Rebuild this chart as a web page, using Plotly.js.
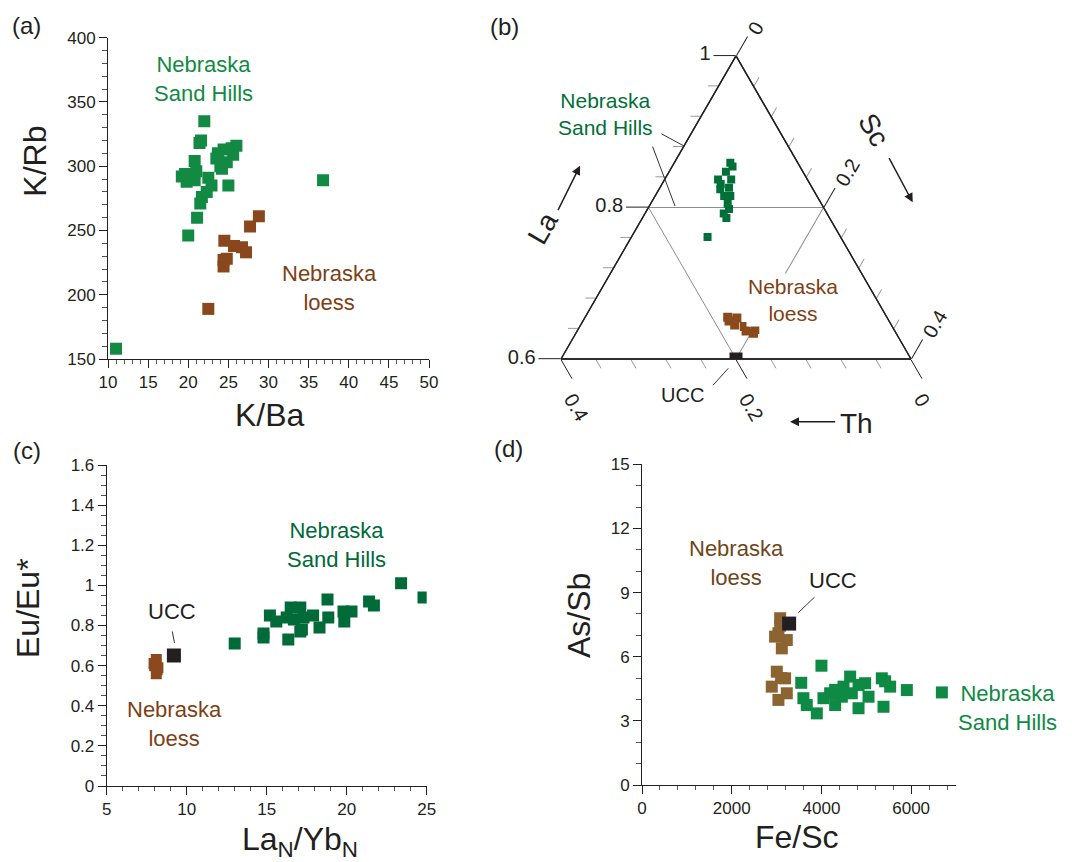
<!DOCTYPE html>
<html><head><meta charset="utf-8">
<script src="https://cdn.plot.ly/plotly-3.0.1.min.js"></script>
<style>html,body{margin:0;padding:0;background:#fff;} #chart{width:1072px;height:862px;}</style>
</head><body><div id="chart"></div>
<script>
// ---------- Panel (a): K/Ba vs K/Rb ----------
const aSandKBa = [11.0, 36.8, 22.0, 21.4, 21.6, 25.4, 24.4, 23.5, 24.8, 24.2, 20.8, 19.6, 21.0, 19.8, 20.8, 22.5, 22.9, 22.3, 21.7, 21.5, 25.0, 21.1, 20.0, 19.2, 26.0, 23.7, 25.6, 24.0];
const aSandKRb = [158, 289, 335, 318, 320, 314, 313, 306, 303, 298, 304, 294, 296, 288, 289, 291, 285, 280, 276, 271, 285, 260, 246, 292, 316, 310, 309, 300];
const aLoessKBa = [28.8, 27.7, 24.5, 25.7, 26.7, 27.2, 24.8, 24.4, 24.4, 22.5];
const aLoessKRb = [261, 253, 242, 238, 237, 233, 228, 222, 227, 189];

// ---------- Panel (b): ternary La - Th - Sc ----------
const bSandLa = [0.859, 0.847, 0.837, 0.837, 0.824, 0.826, 0.815, 0.805, 0.798, 0.792, 0.761, 0.854, 0.831, 0.815, 0.786];
const bSandTh = [0.077, 0.088, 0.102, 0.087, 0.106, 0.095, 0.106, 0.107, 0.109, 0.118, 0.152, 0.077, 0.102, 0.099, 0.118];
const bSandSc = [0.064, 0.065, 0.061, 0.076, 0.070, 0.079, 0.079, 0.088, 0.093, 0.090, 0.087, 0.069, 0.067, 0.086, 0.096];
const bLoessLa = [0.655, 0.654, 0.645, 0.643, 0.637, 0.639, 0.634, 0.650];
const bLoessTh = [0.182, 0.172, 0.179, 0.169, 0.170, 0.159, 0.163, 0.183];
const bLoessSc = [0.163, 0.174, 0.176, 0.188, 0.193, 0.202, 0.203, 0.167];
const bUccLa = [0.6], bUccTh = [0.2], bUccSc = [0.2];
const ternMajorA = [0.6, 0.8, 1.0], ternMajorALabels = ['0.6', '0.8', '1'];
const ternMajorBC = [0, 0.2, 0.4], ternMajorBCLabels = ['0', '0.2', '0.4'];
const ternMinorA = [0.64, 0.68, 0.72, 0.76, 0.84, 0.88, 0.92, 0.96];
const ternMinorBC = [0.04, 0.08, 0.12, 0.16, 0.24, 0.28, 0.32, 0.36];

// ---------- Panel (c): LaN/YbN vs Eu/Eu* ----------
const cSandLaYb = [13.0, 14.8, 14.8, 15.2, 15.6, 16.5, 17.1, 17.9, 16.35, 17.1, 18.3, 18.85, 18.8, 19.8, 19.85, 20.3, 21.4, 21.7, 23.4, 24.8, 16.7, 17.3, 16.25, 17.2];
const cSandEu = [0.71, 0.76, 0.74, 0.85, 0.82, 0.89, 0.89, 0.85, 0.73, 0.77, 0.79, 0.84, 0.93, 0.87, 0.82, 0.87, 0.92, 0.90, 1.01, 0.94, 0.83, 0.84, 0.84, 0.78];
const cLoessLaYb = [8.1, 8.0, 8.1, 8.15, 7.96, 8.2];
const cLoessEu = [0.63, 0.60, 0.56, 0.58, 0.61, 0.59];
const cUccLaYb = [9.2], cUccEu = [0.65];

// ---------- Panel (d): Fe/Sc vs As/Sb ----------
const dSandFeSc = [3550, 4000, 3598, 3673, 3897, 4045, 4194, 4306, 4306, 4455, 4492, 4640, 4678, 4827, 4827, 4975, 5050, 5346, 5384, 5532, 5904, 6685, 5420];
const dSandAsSb = [4.78, 5.58, 4.06, 3.74, 3.35, 4.06, 4.29, 3.74, 4.45, 4.13, 4.60, 5.07, 4.29, 3.59, 4.68, 4.76, 4.13, 4.99, 3.66, 4.60, 4.44, 4.33, 4.85];
const dLoessFeSc = [3080, 3041, 2967, 3228, 3117, 3080, 3005, 3190, 2893, 3228, 3041, 3100];
const dLoessAsSb = [7.80, 7.10, 6.94, 6.78, 6.39, 7.45, 5.30, 4.99, 4.60, 4.29, 3.98, 5.00];
const dUccFeSc = [3280], dUccAsSb = [7.55];

// ---------- styling ----------
const W = 1072, H = 862;
const px = x => x / W, py = y => 1 - y / H;
const FONT = '"Liberation Sans", Arial, Helvetica, sans-serif';
const INK = '#231f20';
const GREEN_A = '#128a43', BROWN_A = '#8a461c';
const GREEN_B = '#007038', BROWN_B = '#8a4a1c';
const GREEN_C = '#006a38', BROWN_C = '#8a4a1e';
const GREEN_D = '#0e8a44', TAN_D = '#8c6432';
const UCC_COL = '#231f20';

function sq(size, color) { return {symbol: 'square', size: size, color: color, line: {width: 0}}; }

const traces = [
  {type: 'scatter', mode: 'markers', x: aSandKBa, y: aSandKRb, xaxis: 'x', yaxis: 'y', marker: sq(12, GREEN_A), name: 'Nebraska Sand Hills'},
  {type: 'scatter', mode: 'markers', x: aLoessKBa, y: aLoessKRb, xaxis: 'x', yaxis: 'y', marker: sq(12, BROWN_A), name: 'Nebraska loess'},

  // invisible carrier so the minor-tick ternary frame is drawn
  {type: 'scatterternary', mode: 'markers', subplot: 'ternary', a: bUccLa, b: bUccTh, c: bUccSc, marker: {size: 1, opacity: 0}, hoverinfo: 'skip', name: ''},
  {type: 'scatterternary', mode: 'markers', subplot: 'ternary2', a: bSandLa, b: bSandTh, c: bSandSc, marker: sq(8, GREEN_B), name: 'Nebraska Sand Hills'},
  {type: 'scatterternary', mode: 'markers', subplot: 'ternary2', a: bLoessLa, b: bLoessTh, c: bLoessSc, marker: sq(9, BROWN_B), name: 'Nebraska loess'},
  {type: 'scatterternary', mode: 'markers', subplot: 'ternary2', a: bUccLa, b: bUccTh, c: bUccSc, marker: sq(13, UCC_COL), name: 'UCC'},

  {type: 'scatter', mode: 'markers', x: cSandLaYb, y: cSandEu, xaxis: 'x2', yaxis: 'y2', marker: sq(12, GREEN_C), name: 'Nebraska Sand Hills'},
  {type: 'scatter', mode: 'markers', x: cLoessLaYb, y: cLoessEu, xaxis: 'x2', yaxis: 'y2', marker: sq(11, BROWN_C), name: 'Nebraska loess'},
  {type: 'scatter', mode: 'markers', x: cUccLaYb, y: cUccEu, xaxis: 'x2', yaxis: 'y2', marker: sq(14, UCC_COL), name: 'UCC'},

  {type: 'scatter', mode: 'markers', x: dSandFeSc, y: dSandAsSb, xaxis: 'x3', yaxis: 'y3', marker: sq(12, GREEN_D), name: 'Nebraska Sand Hills'},
  {type: 'scatter', mode: 'markers', x: dLoessFeSc, y: dLoessAsSb, xaxis: 'x3', yaxis: 'y3', marker: sq(12, TAN_D), name: 'Nebraska loess'},
  {type: 'scatter', mode: 'markers', x: dUccFeSc, y: dUccAsSb, xaxis: 'x3', yaxis: 'y3', marker: sq(14, UCC_COL), name: 'UCC'}
];

function cart(extra) {
  return Object.assign({
    showline: true, linecolor: INK, linewidth: 1, mirror: false,
    ticks: 'outside', ticklen: 8, tickwidth: 1, tickcolor: INK,
    tickfont: {family: FONT, size: 17, color: INK},
    showgrid: false, zeroline: false, fixedrange: true, title: {text: ''}
  }, extra);
}

// triangle: side 350 px, bottom edge at y=359, centred on x=736
const ternDomain = {x: [px(561), px(911)], y: [py(359), py(359 - 350 * Math.sqrt(3) / 2)]};
function ternMinorAxis(minv, vals) {
  return {min: minv, tickmode: 'array', tickvals: vals, ticks: 'outside', ticklen: 10, tickwidth: 1, tickcolor: '#9a9a9a',
    showticklabels: false, showgrid: false, showline: true, linecolor: INK, linewidth: 1.3, title: {text: ''}};
}
function ternMajorAxis(minv, vals, labels, angle) {
  return {min: minv, tickmode: 'array', tickvals: vals, ticktext: labels, ticks: 'outside', ticklen: 22, tickwidth: 1, tickcolor: INK,
    tickangle: angle, tickfont: {family: FONT, size: 20, color: INK},
    showgrid: true, gridcolor: '#8c8c8c', gridwidth: 1, showline: true, linecolor: INK, linewidth: 1.3, title: {text: ''}};
}

function txt(x, y, text, size, color, extra) {
  return Object.assign({xref: 'paper', yref: 'paper', x: px(x), y: py(y), text: text, showarrow: false,
    font: {family: FONT, size: size, color: color}, xanchor: 'center', yanchor: 'middle'}, extra || {});
}
function arrow(tipX, tipY, tailX, tailY, head, width, color) {
  return {xref: 'paper', yref: 'paper', x: px(tipX), y: py(tipY), ax: tailX - tipX, ay: tailY - tipY,
    axref: 'pixel', ayref: 'pixel', text: '', showarrow: true, arrowhead: head, arrowsize: 1.2, arrowwidth: width, arrowcolor: color};
}

const annotations = [
  // (a)
  txt(26, 25, '(a)', 24, INK),
  txt(203.3, 79.2, 'Nebraska<br>Sand Hills', 22, GREEN_A),
  txt(330, 287.5, 'Nebraska<br>loess', 22, '#7e3f14'),
  txt(35, 161.7, 'K/Rb', 32, INK, {textangle: -90}),
  txt(270, 415, 'K/Ba', 32, INK),
  // (b)
  txt(504, 27, '(b)', 24, INK),
  txt(605.7, 114, 'Nebraska<br>Sand Hills', 21, GREEN_B),
  arrow(684, 146, 660, 133, 0, 1, '#333'),
  arrow(675, 206, 652, 145, 0, 1, '#333'),
  txt(792.7, 300, 'Nebraska<br>loess', 21, '#7e3f14', {bgcolor: '#ffffff'}),
  txt(682.7, 395, 'UCC', 20, INK),
  arrow(728.3, 368.3, 711.7, 386.7, 0, 1, '#333'),
  txt(542.5, 228.3, 'La', 28, INK, {textangle: -60}),
  arrow(580, 165.7, 557.3, 211.7, 2, 1.5, INK),
  txt(873.3, 130, 'Sc', 28, INK, {textangle: 60}),
  arrow(912.7, 202.3, 888.3, 156.7, 2, 1.5, INK),
  txt(856, 423.3, 'Th', 28, INK),
  arrow(790, 421.7, 836.7, 421.7, 2, 1.5, INK),
  // (c)
  txt(27, 450, '(c)', 24, INK),
  txt(172.3, 611.7, 'UCC', 22, INK),
  arrow(174.5, 643, 172, 630, 0, 1, '#333'),
  txt(336.7, 544.5, 'Nebraska<br>Sand Hills', 22, GREEN_C),
  txt(174, 724, 'Nebraska<br>loess', 22, '#7e3f14'),
  txt(27.5, 608.5, 'Eu/Eu*', 32, INK, {textangle: -90}),
  txt(300, 841, 'La<sub>N</sub>/Yb<sub>N</sub>', 32, INK),
  // (d)
  txt(508, 449, '(d)', 24, INK),
  txt(736.7, 563.3, 'Nebraska<br>loess', 22, '#6e4618'),
  txt(832.7, 580, 'UCC', 22, INK),
  arrow(798.3, 612.7, 816, 595.7, 0, 1, '#333'),
  txt(1007, 707.5, 'Nebraska<br>Sand Hills', 22, GREEN_D),
  txt(578.5, 615.5, 'As/Sb', 32, INK, {textangle: -90}),
  txt(796.7, 836.7, 'Fe/Sc', 32, INK)
];

const layout = {
  width: W, height: H, margin: {l: 0, r: 0, t: 0, b: 0}, paper_bgcolor: '#fff', plot_bgcolor: 'rgba(0,0,0,0)',
  showlegend: false, font: {family: FONT, color: INK},
  xaxis: cart({domain: [px(108), px(429)], anchor: 'y', range: [10, 50], tick0: 10, dtick: 5,
    minor: {dtick: 1, ticks: 'outside', ticklen: 4, tickcolor: '#555', showgrid: false}}),
  yaxis: cart({domain: [py(359), py(37.7)], anchor: 'x', range: [150, 400], tick0: 150, dtick: 50,
    minor: {dtick: 10, ticks: 'outside', ticklen: 5, tickcolor: '#555', showgrid: false}}),
  xaxis2: cart({domain: [px(106.7), px(426.7)], anchor: 'y2', range: [5, 25], tick0: 5, dtick: 5,
    minor: {dtick: 1, ticks: 'outside', ticklen: 4, tickcolor: '#555', showgrid: false}}),
  yaxis2: cart({domain: [py(786), py(465)], anchor: 'x2', range: [0, 1.6], tick0: 0, dtick: 0.2,
    minor: {dtick: 0.05, ticks: 'outside', ticklen: 5, tickcolor: '#555', showgrid: false}}),
  xaxis3: cart({domain: [px(642), px(956)], anchor: 'y3', range: [0, 7000], tick0: 0, dtick: 2000, tickformat: 'd',
    minor: {dtick: 400, ticks: 'outside', ticklen: 4, tickcolor: '#555', showgrid: false}}),
  yaxis3: cart({domain: [py(785), py(464.3)], anchor: 'x3', range: [0, 15], tick0: 0, dtick: 3,
    minor: {dtick: 1, ticks: 'outside', ticklen: 5, tickcolor: '#555', showgrid: false}}),
  ternary: {domain: ternDomain, sum: 1, bgcolor: '#fff',
    aaxis: ternMinorAxis(0.6, ternMinorA), baxis: ternMinorAxis(0, ternMinorBC), caxis: ternMinorAxis(0, ternMinorBC)},
  ternary2: {domain: ternDomain, sum: 1, bgcolor: 'rgba(0,0,0,0)',
    aaxis: ternMajorAxis(0.6, ternMajorA, ternMajorALabels, 0),
    baxis: ternMajorAxis(0, ternMajorBC, ternMajorBCLabels, 60),
    caxis: ternMajorAxis(0, ternMajorBC, ternMajorBCLabels, -60)},
  annotations: annotations
};

Plotly.newPlot('chart', traces, layout, {staticPlot: true, displayModeBar: false});
</script>
</body></html>
